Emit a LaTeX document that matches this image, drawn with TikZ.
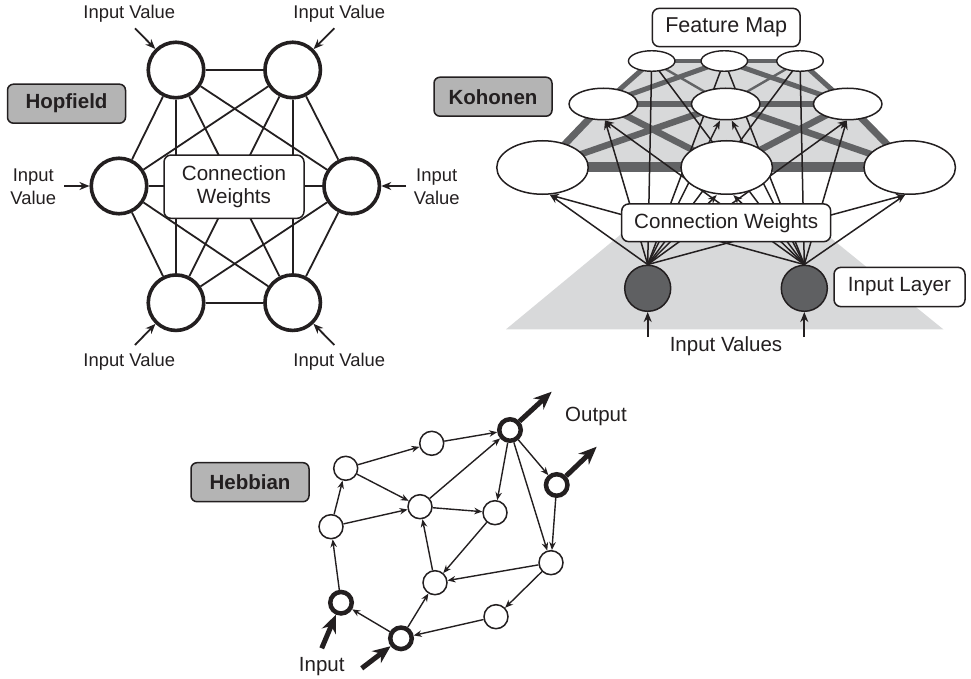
\documentclass[tikz,border=0pt]{standalone}
\usepackage{fontspec}
\setmainfont{Liberation Sans}
\usetikzlibrary{arrows.meta,shapes.geometric}
\pgfdeclarelayer{planes}
\pgfdeclarelayer{wires}
\pgfsetlayers{planes,wires,main}
\definecolor{ink}{HTML}{231F20}
\definecolor{tagfill}{HTML}{B4B4B4}
\definecolor{planefill}{HTML}{D8D9DA}
\definecolor{gridc}{HTML}{626365}
\definecolor{unitfill}{HTML}{5F6062}
\begin{document}
\begin{tikzpicture}[x=1pt,y=-1pt,
  txt/.style={text=ink, font=\fontsize{20.5pt}{23.3pt}\selectfont, inner sep=0pt, align=center},
  smalltxt/.style={text=ink, font=\fontsize{18.4pt}{23.3pt}\selectfont, inner sep=0pt, align=center},
  tagbox/.style={draw=ink, line width=1.5pt, rounded corners=6pt, fill=tagfill,
    minimum width=118pt, minimum height=39pt, inner sep=0pt, text=ink,
    font=\fontsize{20.5pt}{24pt}\selectfont\bfseries},
  wbox/.style={draw=ink, line width=1.5pt, rounded corners=7pt, fill=white, inner sep=0pt,
    text=ink, align=center, font=\fontsize{20.6pt}{23.3pt}\selectfont},
  hopunit/.style={circle, draw=ink, line width=3.6pt, fill=white, minimum size=55.5pt, inner sep=0pt},
  hopwire/.style={draw=ink, line width=1.8pt},
  inarrow/.style={draw=ink, line width=1.8pt, -{Stealth[length=10pt,width=8pt]}},
  kfar/.style={ellipse, draw=ink, line width=1.4pt, fill=white, inner sep=0pt, minimum width=46.5pt, minimum height=20.5pt},
  kmid/.style={ellipse, draw=ink, line width=1.5pt, fill=white, inner sep=0pt, minimum width=68.5pt, minimum height=31.5pt},
  knear/.style={ellipse, draw=ink, line width=1.5pt, fill=white, inner sep=0pt, minimum width=91.5pt, minimum height=53.5pt},
  kin/.style={circle, draw=ink, line width=1.5pt, fill=unitfill, minimum size=46pt, inner sep=0pt},
  kw/.style={draw=ink, line width=1.5pt},
  kwa/.style={kw, -{Stealth[length=9pt,width=7pt]}},
  gl/.style={draw=gridc},
  hn/.style={circle, draw=ink, line width=1.5pt, fill=white, minimum size=24pt, inner sep=0pt},
  hb/.style={circle, draw=ink, line width=4.5pt, fill=white, minimum size=21.5pt, inner sep=0pt},
  harrow/.style={draw=ink, line width=1.4pt, -{Stealth[length=8pt,width=6.5pt]}},
  bigarrow/.style={draw=ink, line width=5pt, -{Stealth[length=18pt,width=15pt]}}
]
\useasboundingbox (0,0) rectangle (971,679);

%% ---------------- Hopfield network ----------------
\node[tagbox] (hoptag) at (66.5,103.7) {Hopfield};
\node[hopunit] (h1) at (176,70) {};
\node[hopunit] (h2) at (292.7,70) {};
\node[hopunit] (h3) at (351.7,186) {};
\node[hopunit] (h4) at (292.7,302.7) {};
\node[hopunit] (h5) at (176,302.7) {};
\node[hopunit] (h6) at (119,186) {};
\begin{pgfonlayer}{wires}
  \foreach \a/\b in {1/2,1/3,1/4,1/5,1/6,2/3,2/4,2/5,2/6,3/4,3/5,3/6,4/5,4/6,5/6}
    \draw[hopwire] (h\a) -- (h\b);
\end{pgfonlayer}
\node[wbox, minimum width=140pt, minimum height=63.3pt] (hcw) at (234,186.7) {Connection\\Weights};

\node[smalltxt] (hl1) at (129.3,14) {Input Value};
\node[smalltxt] (hl2) at (339.3,14) {Input Value};
\node[smalltxt] (hl3) at (436.7,186.7) {Input\\Value};
\node[smalltxt] (hl4) at (339.3,361.7) {Input Value};
\node[smalltxt] (hl5) at (129.3,361.7) {Input Value};
\node[smalltxt] (hl6) at (33.3,186.7) {Input\\Value};
\coordinate (ha1) at (135,28.3);
\coordinate (ha2) at (334.3,28.3);
\coordinate (ha3) at (406,186);
\coordinate (ha4) at (334.3,345);
\coordinate (ha5) at (135,345);
\coordinate (ha6) at (64,186);
\foreach \i in {1,...,6}
  \draw[inarrow] (ha\i) -- (h\i);

%% ---------------- Kohonen network ----------------
\node[tagbox] (kohtag) at (493,96.7) {Kohonen};
\node[wbox, minimum width=147.7pt, minimum height=38.3pt, font=\fontsize{21.5pt}{24pt}\selectfont] (fmap) at (726.2,27.5) {Feature Map};

\node[kfar]  (kTL) at (651.7,61) {};
\node[kfar]  (kTM) at (724.3,61) {};
\node[kfar]  (kTR) at (800,61) {};
\node[kmid]  (kML) at (603.3,104) {};
\node[kmid]  (kMM) at (725.7,104) {};
\node[kmid]  (kMR) at (847.7,104) {};
\node[knear] (kBL) at (542.5,167.5) {};
\node[knear] (kBM) at (726.7,167.5) {};
\node[knear] (kBR) at (909.7,167.5) {};

\node[kin] (inL) at (647.7,288.3) {};
\node[kin] (inR) at (804.3,288.3) {};

\begin{pgfonlayer}{planes}
  % feature-map plane and its lattice
  \fill[planefill] (kTL.center) -- (kTR.center) -- (kMR.center) -- (kBR.center)
    -- (kBL.center) -- (kML.center) -- cycle;
  % input plane
  \fill[planefill] (506,329.3) -- (943.3,329.3) -- (823.4,232) -- (623.7,232) -- cycle;
  \draw[gl, line width=2.4pt] (kTL.center) -- (kMM.center) -- (kTR.center);
  \draw[gl, line width=4pt] (kTL.center) -- (kTM.center) -- (kTR.center);
  \draw[gl, line width=5pt] (kML.center) -- (kTM.center) -- (kMR.center);
  \draw[gl, line width=5pt] (kTL.center) -- (kML.center);
  \draw[gl, line width=5pt] (kTR.center) -- (kMR.center);
  \draw[gl, line width=6pt] (kML.center) -- (kMM.center) -- (kMR.center);
  \draw[gl, line width=6.5pt] (kBL.center) -- (kMM.center) -- (kBR.center);
  \draw[gl, line width=6.5pt] (kML.center) -- (kBM.center) -- (kMR.center);
  \draw[gl, line width=7pt] (kML.center) -- (kBL.center);
  \draw[gl, line width=7pt] (kMR.center) -- (kBR.center);
  \draw[gl, line width=10pt] (kBL.center) -- (kBM.center) -- (kBR.center);
\end{pgfonlayer}

\begin{pgfonlayer}{wires}
  % far row: wires run into the units
  \foreach \u in {kTL,kTM,kTR} {
    \draw[kw] (inL.north) -- (\u.center);
    \draw[kw] (inR.north) -- (\u.center);
  }
  % middle and near rows: arrows meet the lower rim
  \draw[kwa] (inL.north) -- ([xshift=1.7pt]kML.south);
  \draw[kwa] (inR.north) -- ([xshift=1.7pt]kML.south);
  \draw[kwa] (inL.north) -- ([xshift=-5.7pt]kMM.south);
  \draw[kwa] (inR.north) -- ([xshift=6pt]kMM.south);
  \draw[kwa] (inL.north) -- ([xshift=-1pt]kMR.south);
  \draw[kwa] (inR.north) -- ([xshift=-1pt]kMR.south);
  \draw[kwa] (inL.north) -- ([xshift=7.5pt]kBL.south);
  \draw[kwa] (inR.north) -- ([xshift=7.5pt]kBL.south);
  \draw[kwa] (inL.north) -- ([xshift=-10pt]kBM.south);
  \draw[kwa] (inR.north) -- ([xshift=6.6pt]kBM.south);
  \draw[kwa] (inL.north) -- ([xshift=-4.7pt]kBR.south);
  \draw[kwa] (inR.north) -- ([xshift=-4.7pt]kBR.south);
\end{pgfonlayer}

\node[wbox, minimum width=209pt, minimum height=37.7pt] (kcw) at (726.2,222.8) {Connection Weights};
\node[wbox, minimum width=131pt, minimum height=39.3pt] (ilayer) at (899.5,287) {Input Layer};
\node[txt] (kvals) at (726,346) {Input Values};
\coordinate (kaL) at (647.7,337);
\coordinate (kaR) at (804.3,337);
\draw[inarrow] (kaL) -- (inL);
\draw[inarrow] (kaR) -- (inR);

%% ---------------- Hebbian network ----------------
\node[tagbox] (hebtag) at (250,482.2) {Hebbian};
\node[hn] (n1)  at (431.7,443.3) {};
\node[hb] (n2)  at (510,430) {};
\node[hb] (n3)  at (556.7,485) {};
\node[hn] (n4)  at (345.7,468.3) {};
\node[hn] (n5)  at (420,506.7) {};
\node[hn] (n6)  at (495,512.7) {};
\node[hn] (n7)  at (331,526.7) {};
\node[hn] (n8)  at (435,582.7) {};
\node[hn] (n9)  at (551,562.7) {};
\node[hn] (n10) at (496,616.7) {};
\node[hb] (n11) at (341,602.7) {};
\node[hb] (n12) at (401,638.3) {};
\foreach \a/\b in {4/1,1/2,4/5,7/4,7/5,11/7,12/11,12/8,8/5,5/6,5/2,6/8,2/6,2/3,2/9,3/9,9/8,9/10,10/12}
  \draw[harrow] (n\a) -- (n\b);
\coordinate (out1) at (551.7,391.7);
\coordinate (out2) at (596.7,446.7);
\coordinate (src1) at (321.7,648.3);
\coordinate (src2) at (361.7,668.3);
\draw[bigarrow] (n2) -- (out1);
\draw[bigarrow] (n3) -- (out2);
\draw[bigarrow] (src1) -- (n11);
\draw[bigarrow] (src2) -- (n12);
\node[txt] (outlbl) at (596,416.7) {Output};
\node[txt] (inlbl) at (321.7,666.7) {Input};
\end{tikzpicture}
\end{document}
